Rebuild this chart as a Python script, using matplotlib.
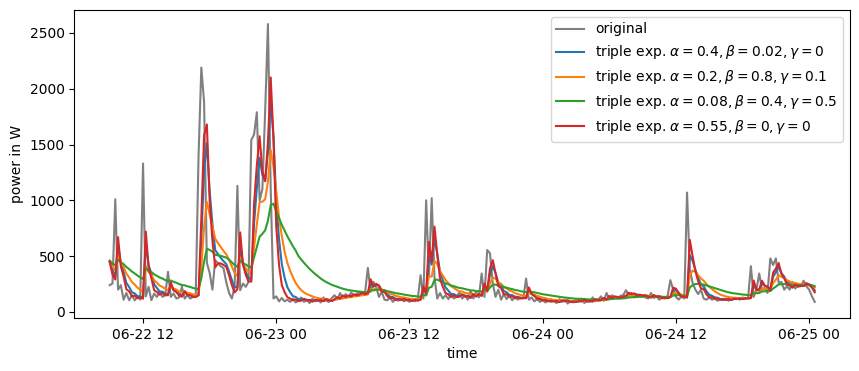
import matplotlib
matplotlib.use('Agg')
import matplotlib.pyplot as plt
import matplotlib.dates as mdates
import pandas as pd

# readings every 15 minutes, 06-22 09:00 .. 06-25 00:30
start = '2021-06-22 09:00'
step = '15min'

original = [
    240, 255, 1010, 200, 240, 110, 170, 105, 150, 105, 135, 110, 1330, 140, 225, 105,
    165, 135, 180, 135, 150, 360, 135, 165, 120, 130, 225, 120, 150, 120, 135, 165,
    1400, 2190, 1880, 440, 350, 200, 465, 435, 410, 390, 265, 170, 120, 225, 1130, 195,
    255, 225, 270, 1540, 1590, 1790, 1000, 1100, 1800, 2580, 1100, 120, 140, 95, 125, 95,
    110, 90, 120, 85, 105, 130, 90, 110, 80, 120, 95, 115, 85, 130, 100, 90,
    125, 150, 110, 170, 120, 160, 130, 175, 140, 165, 180, 150, 175, 395, 180, 270,
    225, 135, 180, 110, 105, 130, 90, 120, 100, 125, 95, 110, 90, 120, 95, 120,
    330, 120, 1000, 310, 1020, 310, 120, 170, 120, 150, 115, 160, 120, 140, 175, 120,
    150, 110, 190, 120, 180, 130, 345, 135, 555, 525, 255, 135, 200, 110, 160, 115,
    150, 105, 140, 110, 130, 120, 300, 110, 130, 95, 115, 90, 110, 85, 105, 90,
    100, 80, 115, 90, 110, 75, 100, 85, 110, 90, 120, 80, 105, 90, 130, 95,
    110, 140, 100, 170, 110, 150, 130, 120, 145, 150, 195, 150, 170, 130, 160, 140,
    150, 130, 120, 170, 125, 140, 110, 130, 120, 145, 285, 200, 135, 110, 140, 120,
    1070, 380, 260, 200, 160, 200, 120, 110, 130, 110, 120, 100, 115, 105, 120, 100,
    130, 115, 125, 110, 130, 120, 130, 410, 135, 200, 345, 200, 215, 170, 480, 420,
    480, 260, 270, 200, 230, 200, 270, 210, 240, 230, 280, 230, 200, 140, 90,
]

# alpha=0.4, beta=0.02, gamma=0
smooth_a = [
    450, 366, 322, 597, 438, 359, 259, 224, 176, 166, 141, 139, 127, 608, 421, 343,
    248, 215, 183, 182, 163, 158, 239, 197, 184, 159, 147, 178, 155, 153, 140, 138,
    149, 649, 1265, 1511, 1083, 790, 554, 518, 485, 455, 429, 363, 286, 220, 222, 585,
    429, 359, 306, 291, 791, 1111, 1382, 1229, 1178, 1427, 1888, 1573, 992, 651, 429, 307,
    222, 177, 142, 134, 114, 110, 118, 107, 108, 97, 106, 102, 107, 98, 111, 107,
    100, 110, 126, 120, 140, 132, 143, 138, 153, 148, 155, 165, 159, 165, 257, 226,
    244, 236, 196, 190, 158, 137, 134, 116, 118, 111, 116, 108, 109, 101, 109, 103,
    110, 198, 167, 500, 424, 662, 521, 361, 285, 219, 191, 161, 160, 144, 143, 156,
    141, 145, 131, 155, 141, 156, 146, 226, 189, 336, 411, 349, 263, 238, 187, 176,
    152, 151, 133, 136, 125, 127, 124, 195, 161, 149, 127, 122, 109, 110, 100, 102,
    97, 98, 91, 101, 96, 102, 91, 95, 91, 99, 95, 105, 95, 99, 95, 109,
    104, 106, 120, 112, 135, 125, 135, 133, 128, 135, 141, 163, 158, 163, 150, 154,
    148, 149, 141, 133, 148, 139, 139, 128, 129, 125, 133, 194, 196, 172, 147, 144,
    135, 509, 457, 378, 307, 248, 229, 185, 155, 145, 131, 127, 116, 116, 111, 115,
    109, 117, 116, 120, 116, 122, 121, 125, 239, 197, 198, 257, 234, 227, 204, 314,
    357, 406, 348, 317, 270, 254, 232, 247, 232, 235, 233, 252, 243, 226, 192,
]

# alpha=0.2, beta=0.8, gamma=0.1
smooth_b = [
    450, 408, 377, 504, 443, 403, 344, 309, 268, 245, 217, 200, 182, 412, 358, 331,
    286, 262, 236, 225, 207, 196, 229, 210, 201, 185, 174, 184, 171, 167, 158, 153,
    155, 404, 762, 985, 876, 771, 657, 618, 582, 547, 516, 466, 407, 349, 324, 486,
    427, 393, 359, 342, 581, 783, 984, 988, 1010, 1168, 1450, 1300, 1080, 850, 680, 540,
    440, 370, 310, 260, 225, 195, 175, 160, 150, 140, 130, 125, 120, 115, 112, 110,
    106, 110, 118, 116, 127, 126, 133, 132, 141, 141, 145, 152, 152, 157, 204, 199,
    214, 216, 200, 196, 179, 164, 157, 144, 139, 131, 130, 123, 120, 114, 115, 111,
    113, 156, 149, 319, 317, 458, 428, 367, 327, 286, 259, 230, 216, 197, 185, 183,
    171, 167, 155, 162, 154, 159, 153, 192, 180, 255, 309, 298, 266, 253, 224, 211,
    192, 184, 168, 162, 152, 148, 142, 174, 161, 155, 143, 137, 128, 124, 116, 114,
    109, 107, 102, 105, 102, 103, 98, 98, 96, 98, 97, 101, 97, 99, 97, 104,
    102, 104, 111, 109, 121, 119, 125, 126, 125, 129, 133, 145, 146, 151, 147, 149,
    148, 148, 144, 140, 146, 142, 141, 135, 134, 131, 134, 164, 171, 164, 153, 151,
    145, 330, 370, 360, 330, 300, 280, 250, 225, 205, 185, 170, 155, 147, 139, 134,
    127, 128, 125, 125, 122, 124, 123, 124, 181, 172, 178, 211, 209, 210, 202, 258,
    290, 328, 315, 306, 285, 274, 259, 261, 251, 249, 245, 252, 248, 238, 218,
]

# alpha=0.08, beta=0.4, gamma=0.5
smooth_c = [
    460, 433, 419, 466, 445, 429, 403, 384, 362, 345, 326, 311, 295, 390, 370, 358,
    338, 324, 309, 299, 286, 275, 282, 270, 262, 250, 241, 239, 230, 224, 215, 209,
    205, 301, 452, 566, 556, 540, 512, 508, 503, 495, 487, 469, 445, 420, 404, 462,
    440, 425, 409, 398, 489, 577, 674, 700, 732, 818, 959, 970, 902, 841, 781, 729,
    678, 633, 589, 550, 500, 470, 440, 412, 385, 362, 340, 320, 300, 283, 268, 255,
    243, 234, 225, 216, 208, 202, 196, 192, 188, 185, 182, 180, 177, 176, 194, 193,
    199, 200, 195, 193, 187, 181, 176, 169, 165, 160, 156, 151, 148, 143, 142, 138,
    136, 152, 149, 217, 225, 288, 290, 277, 268, 256, 248, 237, 231, 222, 215, 212,
    205, 200, 193, 193, 187, 187, 182, 195, 190, 219, 244, 245, 236, 233, 223, 218,
    210, 205, 197, 193, 186, 181, 177, 186, 180, 176, 170, 165, 159, 155, 150, 146,
    142, 138, 134, 132, 129, 127, 123, 121, 118, 118, 116, 116, 113, 112, 111, 112,
    111, 111, 113, 112, 117, 116, 119, 120, 120, 122, 124, 130, 131, 134, 134, 136,
    136, 138, 137, 136, 138, 137, 138, 135, 135, 134, 135, 147, 151, 150, 146, 146,
    144, 220, 240, 250, 252, 250, 245, 237, 228, 220, 212, 204, 196, 189, 182, 176,
    170, 167, 163, 160, 156, 154, 151, 149, 170, 167, 170, 184, 185, 188, 186, 210,
    227, 247, 248, 250, 246, 244, 241, 243, 241, 241, 240, 243, 242, 239, 231,
]

# alpha=0.55, beta=0, gamma=0
smooth_d = [
    450, 335, 291, 670, 411, 317, 203, 185, 141, 146, 124, 130, 119, 720, 401, 304,
    195, 179, 155, 169, 150, 150, 265, 193, 178, 146, 137, 186, 150, 150, 134, 134,
    151, 838, 1582, 1680, 998, 642, 399, 436, 435, 421, 404, 328, 241, 175, 203, 713,
    428, 333, 274, 272, 969, 1311, 1574, 1258, 1171, 1517, 2101, 1550, 764, 421, 241, 178,
    132, 120, 104, 113, 97, 102, 117, 102, 107, 92, 107, 101, 109, 96, 115, 107,
    98, 113, 133, 121, 148, 133, 148, 138, 158, 148, 157, 170, 159, 168, 293, 231,
    252, 237, 181, 180, 142, 122, 126, 106, 114, 106, 117, 105, 108, 98, 110, 102,
    112, 232, 170, 627, 453, 765, 515, 298, 227, 168, 158, 134, 149, 133, 137, 158,
    137, 144, 125, 161, 138, 161, 144, 255, 189, 390, 464, 349, 231, 214, 157, 159,
    135, 143, 122, 132, 120, 126, 123, 220, 160, 143, 117, 116, 102, 106, 95, 100,
    95, 98, 88, 103, 96, 104, 88, 95, 89, 101, 95, 109, 93, 100, 94, 114,
    104, 107, 125, 111, 144, 125, 139, 134, 126, 137, 144, 172, 160, 166, 146, 154,
    146, 148, 138, 128, 151, 137, 139, 123, 127, 123, 135, 218, 208, 168, 136, 138,
    128, 646, 500, 368, 276, 212, 205, 158, 132, 131, 119, 120, 109, 112, 108, 115,
    107, 120, 117, 121, 115, 123, 122, 126, 282, 201, 201, 280, 236, 225, 195, 352,
    389, 439, 341, 302, 246, 237, 217, 246, 226, 234, 232, 258, 243, 219, 176,
]

labels = [
    'original',
    r'triple exp. $\alpha = 0.4, \beta = 0.02, \gamma = 0$',
    r'triple exp. $\alpha = 0.2, \beta = 0.8, \gamma = 0.1$',
    r'triple exp. $\alpha = 0.08, \beta = 0.4, \gamma = 0.5$',
    r'triple exp. $\alpha = 0.55, \beta = 0, \gamma = 0$',
]

times = pd.date_range(start, periods=len(original), freq=step)

fig = plt.figure(figsize=(8.59, 3.71), dpi=100)
ax = fig.add_axes([0.0867, 0.1429, 0.9028, 0.8302])

ax.plot(times, original, color='gray', label=labels[0])
ax.plot(times, smooth_a, color='tab:blue', label=labels[1])
ax.plot(times, smooth_b, color='tab:orange', label=labels[2])
ax.plot(times, smooth_c, color='tab:green', label=labels[3])
ax.plot(times, smooth_d, color='tab:red', label=labels[4])

ax.set_ylim(-54, 2706)
ax.xaxis.set_major_locator(mdates.HourLocator(byhour=[0, 12]))
ax.xaxis.set_major_formatter(mdates.DateFormatter('%m-%d %H'))

ax.set_xlabel('time')
ax.set_ylabel('power in W')
ax.legend(loc='upper right')

fig.savefig('out.png', dpi=100)
